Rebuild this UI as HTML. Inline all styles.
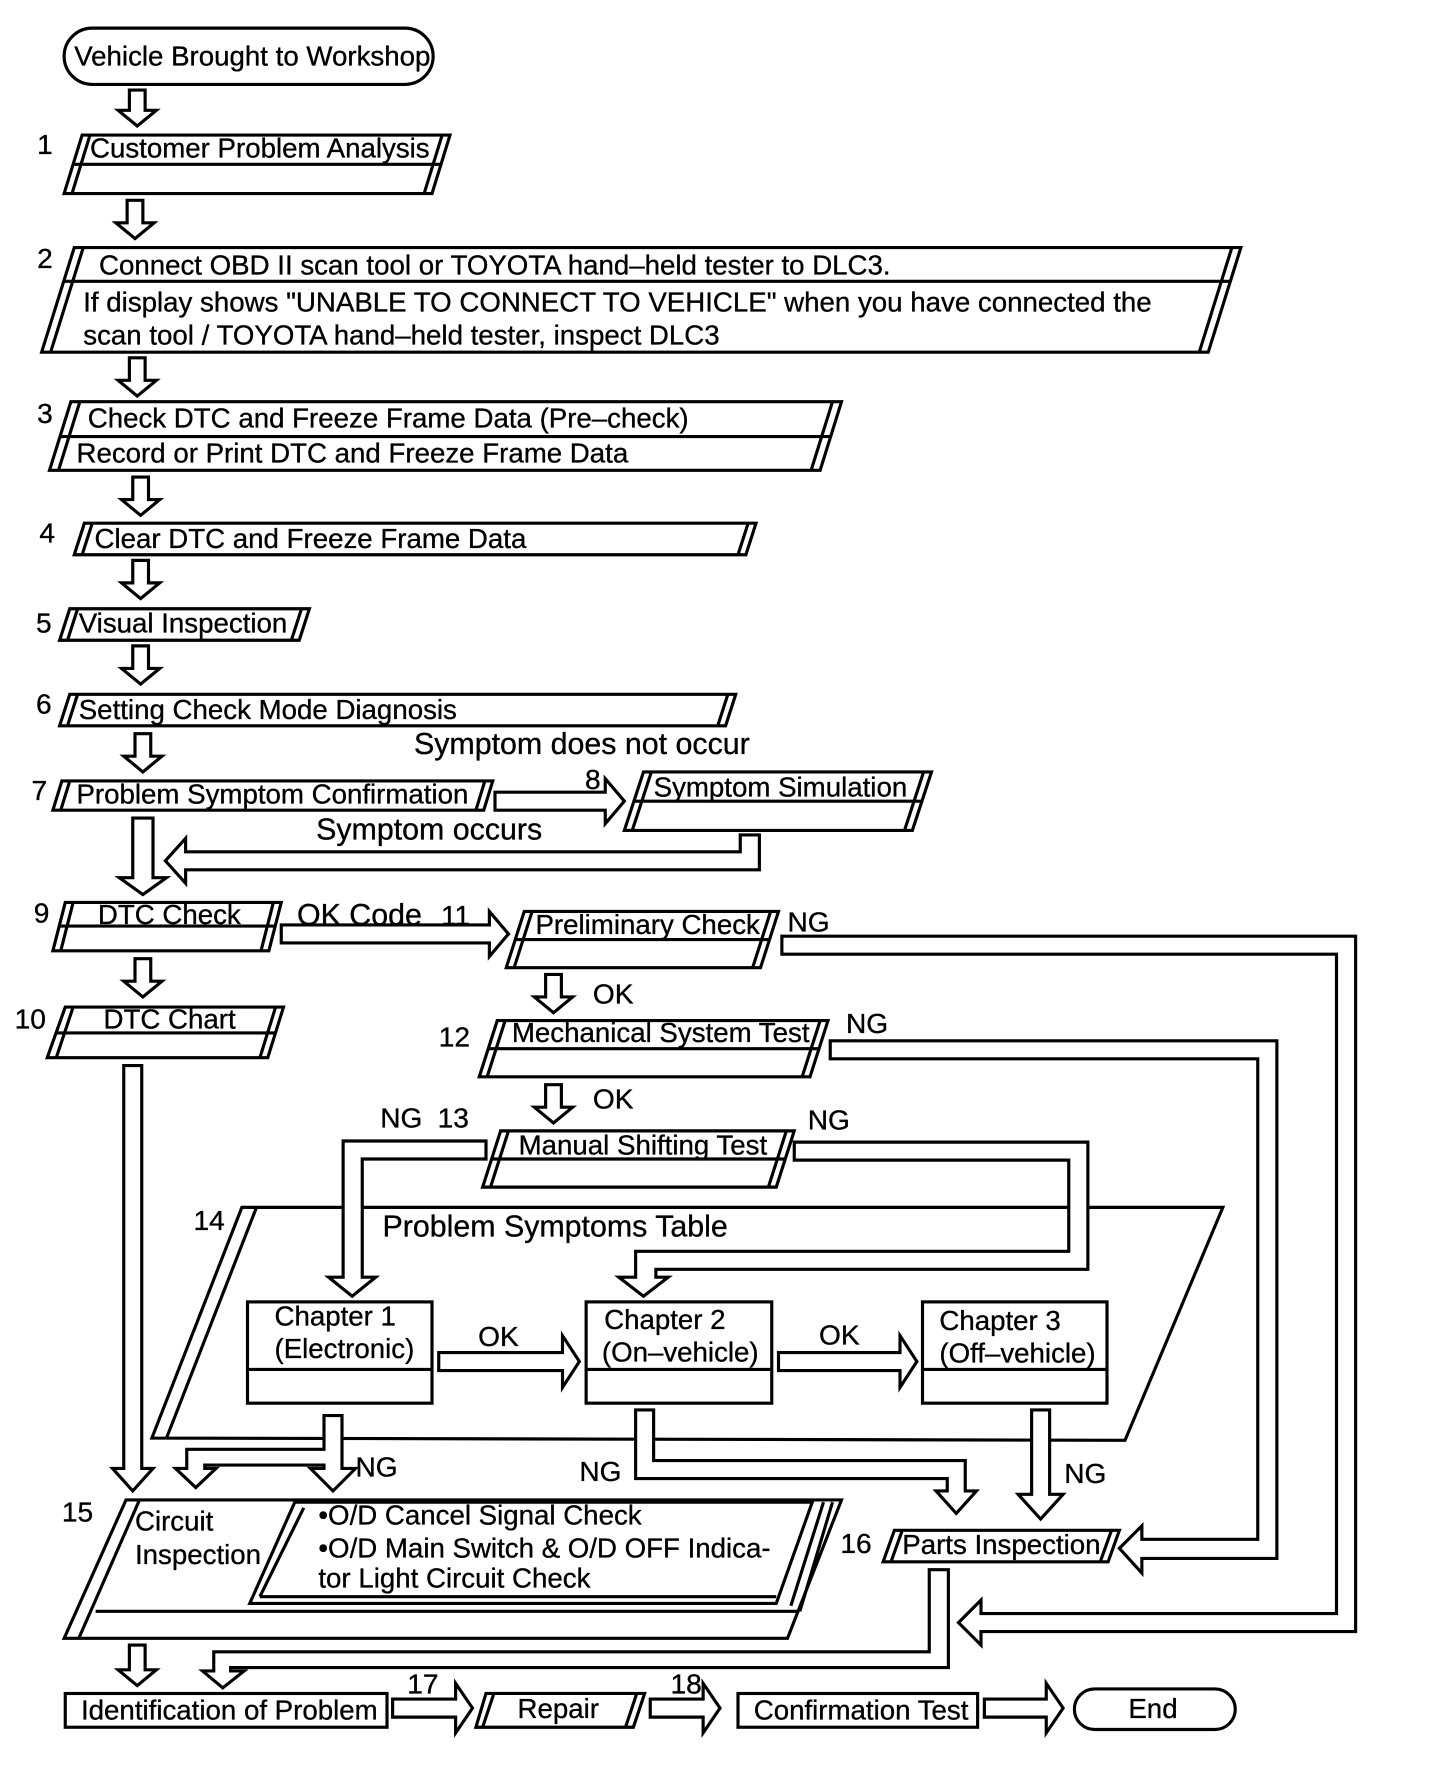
<!DOCTYPE html>
<html><head><meta charset="utf-8"><style>
html,body{margin:0;padding:0;background:#fff;}
svg{display:block;}
text{font-family:"Liberation Sans",Arial,sans-serif;font-size:24.6px;fill:#000;stroke:#000;stroke-width:0.3px;}
.n{font-size:25px;}
.b{font-size:27px;}
</style></head><body>
<svg width="1440" height="1770" viewBox="0 0 1280 1573" preserveAspectRatio="none" xmlns="http://www.w3.org/2000/svg">
<g fill="#fff" stroke="#000" stroke-width="2.8" stroke-linejoin="miter">
<rect x="57" y="25" width="328" height="50" rx="25"/>
<path d="M115,80H129V98H139L122,112L105,98H115Z"/>
<path d="M113,178H127V198H137L120,212L103,198H113Z"/>
<path d="M115,318H129V338H139L122,352L105,338H115Z"/>
<path d="M118,424H132V444H142L125,458L108,444H118Z"/>
<path d="M118,498H132V518H142L125,532L108,518H118Z"/>
<path d="M118,574H132V594H142L125,608L108,594H118Z"/>
<path d="M120,652H134V672H144L127,686L110,672H120Z"/>
<path d="M118,727H136V780H148L127,795L106,780H118Z"/>
<path d="M120,852H134V872H144L127,886L110,872H120Z"/>
<path d="M485,866H499V886H509L492,900L475,886H485Z"/>
<path d="M485,964H499V984H509L492,998L475,984H485Z"/>
<path d="M115,1462H129V1484H139L122,1498L105,1484H115Z"/>
<polygon points="73,120 400,120 384,172 57,172"/>
<line x1="80" y1="120" x2="64" y2="172"/><line x1="393" y1="120" x2="377" y2="172"/>
<line x1="65" y1="146" x2="392" y2="146"/>
<polygon points="66,220 1103,220 1074,313 37,313"/>
<line x1="74" y1="220" x2="45" y2="313"/><line x1="1095" y1="220" x2="1066" y2="313"/>
<line x1="57" y1="250" x2="1094" y2="250"/>
<polygon points="63,357 748,357 729,418 44,418"/>
<line x1="71" y1="357" x2="52" y2="418"/><line x1="740" y1="357" x2="721" y2="418"/>
<line x1="54" y1="388" x2="739" y2="388"/>
<polygon points="75,465 672,465 663,493 66,493"/>
<line x1="82" y1="465" x2="73" y2="493"/><line x1="665" y1="465" x2="656" y2="493"/>
<polygon points="62,541 275,541 266,569 53,569"/>
<line x1="69" y1="541" x2="60" y2="569"/><line x1="268" y1="541" x2="259" y2="569"/>
<polygon points="62,617 654,617 645,645 53,645"/>
<line x1="69" y1="617" x2="60" y2="645"/><line x1="647" y1="617" x2="638" y2="645"/>
<polygon points="55,694 438,694 430,720 47,720"/>
<line x1="62" y1="694" x2="54" y2="720"/><line x1="431" y1="694" x2="423" y2="720"/>
<path d="M440,704H538V692L555,712L538,732V720H440Z"/>
<polygon points="572,686 828,686 811,738 555,738"/>
<line x1="579" y1="686" x2="562" y2="738"/><line x1="821" y1="686" x2="804" y2="738"/>
<line x1="564" y1="712" x2="820" y2="712"/>
<path d="M658,742H675V773H165V785L147,765L165,745V757H658Z"/>
<polygon points="58,802 250,802 239,845 47,845"/>
<line x1="65" y1="802" x2="54" y2="845"/><line x1="243" y1="802" x2="232" y2="845"/>
<line x1="52" y1="823" x2="245" y2="823"/>
<path d="M250,822H435V810L452,830L435,850V838H250Z"/>
<polygon points="58,895 252,895 238,940 42,940"/>
<line x1="65" y1="895" x2="50" y2="940"/><line x1="245" y1="895" x2="231" y2="940"/>
<line x1="50" y1="918" x2="245" y2="918"/>
<polygon points="466,810 692,810 676,860 450,860"/>
<line x1="473" y1="810" x2="457" y2="860"/><line x1="685" y1="810" x2="669" y2="860"/>
<line x1="458" y1="835" x2="684" y2="835"/>
<path d="M695,832H1205V1450H872V1462L852,1442L872,1422V1434H1188V848H695Z"/>
<polygon points="442,907 736,907 720,957 426,957"/>
<line x1="449" y1="907" x2="433" y2="957"/><line x1="729" y1="907" x2="713" y2="957"/>
<line x1="434" y1="932" x2="728" y2="932"/>
<path d="M738,925H1135V1385H1015V1398L995,1376L1015,1356V1368H1118V941H738Z"/>
<polygon points="445,1005 706,1005 690,1055 429,1055"/>
<line x1="452" y1="1005" x2="436" y2="1055"/><line x1="699" y1="1005" x2="683" y2="1055"/>
<line x1="437" y1="1030" x2="698" y2="1030"/>
<polygon points="215,1073 1087,1073 1000,1280 135,1278"/>
<line x1="228" y1="1073" x2="148" y2="1278"/>
<path d="M432,1014H305V1135H292L313,1152L334,1135H322V1030H432Z"/>
<path d="M706,1015H967V1128H583V1135H594L572,1152L550,1135H565V1112H950V1031H706Z"/>
<rect x="220" y="1157" width="164" height="90"/><line x1="220" y1="1217" x2="384" y2="1217"/>
<rect x="521" y="1157" width="165" height="90"/><line x1="521" y1="1217" x2="686" y2="1217"/>
<rect x="820" y="1157" width="164" height="90"/><line x1="820" y1="1217" x2="984" y2="1217"/>
<path d="M390,1202H500V1187L515,1210L500,1233V1218H390Z"/>
<path d="M692,1202H800V1187L815,1210L800,1233V1218H692Z"/>
<path d="M110,947H126V1305H136L118,1325L100,1305H110Z"/>
<path d="M288,1258H304V1305H316L296,1325L276,1305H288V1302H182V1305H192L174,1322L156,1305H166V1288H288Z"/>
<path d="M565,1253H581V1298H858V1325H868L850,1345L832,1325H842V1314H565Z"/>
<path d="M917,1253H933V1328H945L925,1350L905,1328H917Z"/>
<polygon points="112,1333 748,1333 700,1456 57,1456"/>
<line x1="124" y1="1333" x2="70" y2="1456"/>
<line x1="85" y1="1432" x2="710" y2="1432"/>
<line x1="740" y1="1335" x2="711" y2="1432"/>
<line x1="732" y1="1335" x2="703" y2="1427"/>
<polygon points="262,1335 722,1335 690,1425 222,1425"/>
<line x1="270" y1="1340" x2="231" y2="1419"/>
<line x1="231" y1="1419" x2="690" y2="1419"/>
</g>
<g fill="#fff" stroke="#000" stroke-width="2.8">
<polygon points="795,1360 995,1360 985,1388 785,1388"/>
<line x1="802" y1="1360" x2="792" y2="1388"/><line x1="988" y1="1360" x2="978" y2="1388"/>
<path d="M826,1395H843V1482H205V1485H217L198,1500L180,1485H190V1468H826Z"/>
<rect x="58" y="1505" width="286" height="30"/>
<path d="M349,1510H405V1496L420,1518L405,1540V1526H349Z"/>
<polygon points="432,1505 573,1505 563,1535 423,1535"/>
<line x1="439" y1="1505" x2="429" y2="1535"/><line x1="566" y1="1505" x2="556" y2="1535"/>
<path d="M578,1510H625V1496L640,1518L625,1540V1526H578Z"/>
<rect x="656" y="1505" width="213" height="30"/>
<path d="M875,1510H930V1496L945,1518L930,1540V1526H875Z"/>
<rect x="955" y="1501" width="143" height="36" rx="18"/>
</g>
<g>
<text x="66" y="58">Vehicle Brought to Workshop</text>
<text class="n" x="33" y="137">1</text>
<text x="80" y="140">Customer Problem Analysis</text>
<text class="n" x="33" y="238">2</text>
<text x="88" y="244">Connect OBD II scan tool or TOYOTA hand–held tester to DLC3.</text>
<text x="74" y="277">If display shows "UNABLE TO CONNECT TO VEHICLE" when you have connected the</text>
<text x="74" y="306">scan tool / TOYOTA hand–held tester, inspect DLC3</text>
<text class="n" x="33" y="376">3</text>
<text x="78" y="380">Check DTC and Freeze Frame Data (Pre–check)</text>
<text x="68" y="411">Record or Print DTC and Freeze Frame Data</text>
<text class="n" x="35" y="482">4</text>
<text x="84" y="487">Clear DTC and Freeze Frame Data</text>
<text class="n" x="32" y="562">5</text>
<text x="70" y="562">Visual Inspection</text>
<text class="n" x="32" y="634">6</text>
<text x="70" y="639">Setting Check Mode Diagnosis</text>
<text class="b" x="368" y="670">Symptom does not occur</text>
<text class="n" x="28" y="711">7</text>
<text x="68" y="714">Problem Symptom Confirmation</text>
<text class="n" x="520" y="701">8</text>
<text x="581" y="708">Symptom Simulation</text>
<text class="b" x="281" y="746">Symptom occurs</text>
<text class="n" x="30" y="820">9</text>
<text x="87" y="821">DTC Check</text>
<text class="b" x="264" y="822">OK Code</text>
<text class="n" x="392" y="822">11</text>
<text x="476" y="830">Preliminary Check</text>
<text class="n" x="700" y="828">NG</text>
<text class="n" x="13" y="914">10</text>
<text x="92" y="914">DTC Chart</text>
<text class="n" x="527" y="892">OK</text>
<text class="n" x="390" y="930">12</text>
<text x="455" y="926">Mechanical System Test</text>
<text class="n" x="752" y="918">NG</text>
<text class="n" x="527" y="985">OK</text>
<text class="n" x="338" y="1002">NG</text>
<text class="n" x="389" y="1002">13</text>
<text x="461" y="1026">Manual Shifting Test</text>
<text class="n" x="718" y="1004">NG</text>
<text class="n" x="172" y="1093">14</text>
<text class="b" x="340" y="1099">Problem Symptoms Table</text>
<text x="244" y="1178">Chapter 1</text>
<text x="244" y="1207">(Electronic)</text>
<text x="537" y="1181">Chapter 2</text>
<text x="535" y="1210">(On–vehicle)</text>
<text x="835" y="1182">Chapter 3</text>
<text x="835" y="1211">(Off–vehicle)</text>
<text class="n" x="425" y="1196">OK</text>
<text class="n" x="728" y="1195">OK</text>
<text class="n" x="316" y="1312">NG</text>
<text class="n" x="515" y="1316">NG</text>
<text class="n" x="946" y="1318">NG</text>
<text class="n" x="55" y="1352">15</text>
<text x="120" y="1360">Circuit</text>
<text x="120" y="1390">Inspection</text>
<text x="283" y="1355">•O/D Cancel Signal Check</text>
<text x="283" y="1384">•O/D Main Switch &amp; O/D OFF Indica-</text>
<text x="283" y="1411">tor Light Circuit Check</text>
<text class="n" x="747" y="1380">16</text>
<text x="802" y="1381">Parts Inspection</text>
<text x="72" y="1528">Identification of Problem</text>
<text class="n" x="362" y="1505">17</text>
<text x="460" y="1527">Repair</text>
<text class="n" x="596" y="1505">18</text>
<text x="670" y="1528">Confirmation Test</text>
<text x="1003" y="1527">End</text>
</g>
</svg>
</body></html>
